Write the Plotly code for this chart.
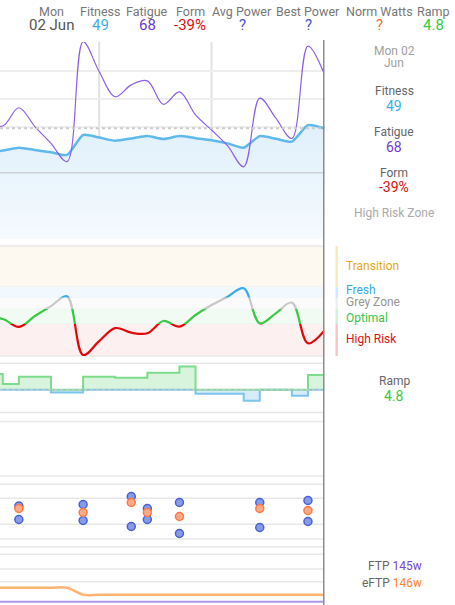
import datetime as dt
import plotly.graph_objects as go

# ---------------- data ----------------
END = dt.date(2025, 6, 2)
day_offsets = list(range(-21, 1))
dates = [(END + dt.timedelta(days=d)).isoformat() for d in day_offsets]

fitness = [40.8, 41.3, 42.3, 41.5, 40.7, 39.8, 46.7, 45.8, 44.7, 45.5, 46.3,
           45.3, 46.3, 45.6, 44.9, 43.8, 42.3, 46.3, 45.4, 44.4, 50.1, 49.0]
fatigue = [51.0, 49.8, 56.1, 49.6, 43.8, 37.5, 78.9, 68.6, 59.9, 64.0, 65.4,
           57.3, 61.6, 53.6, 48.4, 42.9, 35.7, 59.4, 52.5, 45.5, 77.4, 68.0]
form_pct = [-22.0, -23.3, -34.0, -19.3, -6.0, 7.0, -71.6, -53.0, -35.5, -41.7, -42.5,
            -26.0, -33.6, -18.0, -4.6, 6.6, 17.8, -29.1, -15.7, -1.4, -55.9, -39.4]
ramp = [5.1, 1.9, 4.2, 4.2, -0.9, -0.9, 4.2, 4.2, 3.9, 3.9, 5.5,
        5.5, 7.5, -1.3, -1.3, -1.3, -3.5, 0.0, 0.0, -1.9, 4.8, 4.8]
ftp = [145] * 22
eftp = [147, 147, 147, 147, 147, 147, 146, 146, 146, 146, 146,
        146, 146, 146, 146, 146, 146, 146, 146, 146, 146, 146]

act_offsets = [-19, -15, -12, -11, -9, -4, -1]
act_dates = [(END + dt.timedelta(days=d)).isoformat() for d in act_offsets]
best_power = [156, 159, 175, 151, 163, 163, 167]
norm_watts = [151, 143, 163, 143, 135, 151, 147]
avg_power = [129, 127, 115, 129, 101, 113, 125]

week_starts = ["2025-05-19", "2025-05-26"]

header_labels = ["Mon", "Fitness", "Fatigue", "Form", "Avg Power", "Best Power", "Norm Watts", "Ramp"]
header_values = ["02 Jun", "49", "68", "-39%", "?", "?", "?", "4.8"]

# zones: name, lower, upper
FORM_LO, FORM_HI = -72.92, 74.53
zones = [
    ("Transition", 20, FORM_HI),
    ("Fresh", 5, 20),
    ("Grey Zone", -10, 5),
    ("Optimal", -30, -10),
    ("High Risk", FORM_LO, -30),
]

# ---------------- styling ----------------
W, H = 455, 605
FONT = "Roboto"


def px_x(p):
    return p / W


def px_y(p):
    return 1 - p / H


zone_style = {
    "Transition": dict(line="rgb(240,180,40)", bg="rgb(253,249,240)", bar="rgb(250,232,185)", txt="rgb(232,168,20)"),
    "Fresh": dict(line="rgb(60,170,232)", bg="rgb(241,248,254)", bar="rgb(205,232,250)", txt="rgb(58,168,232)"),
    "Grey Zone": dict(line="rgb(200,200,200)", bg="rgb(251,251,251)", bar="rgb(238,238,238)", txt="rgb(150,150,150)"),
    "Optimal": dict(line="rgb(60,200,70)", bg="rgb(241,251,243)", bar="rgb(205,242,210)", txt="rgb(55,195,70)"),
    "High Risk": dict(line="rgb(225,10,10)", bg="rgb(252,240,240)", bar="rgb(245,195,195)", txt="rgb(225,15,15)"),
}
zone_label_y = {"Transition": 266, "Fresh": 290, "Grey Zone": 302, "Optimal": 318, "High Risk": 339}

fig = go.Figure()

# ---- panel 1: fitness / fatigue ----
fig.add_trace(go.Scatter(
    x=dates, y=fitness, mode="lines", xaxis="x", yaxis="y",
    line=dict(color="rgb(95,185,235)", width=2.5, shape="spline", smoothing=0.6),
    fill="tozeroy",
    fillgradient=dict(type="vertical", start=10.76, stop=50,
                      colorscale=[[0, "rgb(245,250,254)"], [1, "rgb(224,240,251)"]]),
    hoverinfo="skip"))
fig.add_trace(go.Scatter(
    x=dates, y=fatigue, mode="lines", xaxis="x", yaxis="y",
    line=dict(color="rgb(140,95,228)", width=1.2, shape="spline", smoothing=1.0),
    hoverinfo="skip"))

# ---- panel 2: form, coloured by zone (clipped per-zone sub-axes) ----
P2_TOP, P2_BOT = 246, 356


def form_px(v):
    return P2_BOT - (v - FORM_LO) / (FORM_HI - FORM_LO) * (P2_BOT - P2_TOP)


zone_axes = {}
for i, (name, lo, hi) in enumerate(zones):
    n = 3 + i
    zone_axes[name] = n
    fig.add_trace(go.Scatter(
        x=dates, y=form_pct, mode="lines", xaxis="x", yaxis=f"y{n}",
        line=dict(color=zone_style[name]["line"], width=2.2, shape="spline", smoothing=1.0),
        hoverinfo="skip"))

# ---- panel 3: ramp ----
ramp_pos = [max(v, 0) for v in ramp]
ramp_neg = [min(v, 0) for v in ramp]
fig.add_trace(go.Scatter(
    x=dates, y=ramp_neg, mode="lines", xaxis="x", yaxis="y8",
    line=dict(color="rgb(125,195,238)", width=2, shape="hv"),
    fill="tozeroy", fillcolor="rgba(125,195,238,0.32)", hoverinfo="skip"))
fig.add_trace(go.Scatter(
    x=dates, y=ramp_pos, mode="lines", xaxis="x", yaxis="y8",
    line=dict(color="rgb(125,220,140)", width=2, shape="hv"),
    fill="tozeroy", fillcolor="rgba(125,220,140,0.3)", hoverinfo="skip"))

# ---- panel 5: power dots ----
blue_marker = dict(size=8, color="rgb(135,155,235)", line=dict(color="rgb(75,95,215)", width=1.5))
orange_marker = dict(size=8, color="rgb(255,170,135)", line=dict(color="rgb(255,120,70)", width=1.5))
fig.add_trace(go.Scatter(x=act_dates, y=best_power, mode="markers", xaxis="x", yaxis="y9",
                         marker=blue_marker, hoverinfo="skip"))
fig.add_trace(go.Scatter(x=act_dates, y=avg_power, mode="markers", xaxis="x", yaxis="y9",
                         marker=blue_marker, hoverinfo="skip"))
fig.add_trace(go.Scatter(x=act_dates, y=norm_watts, mode="markers", xaxis="x", yaxis="y9",
                         marker=orange_marker, hoverinfo="skip"))

# ---- panel 6: FTP / eFTP ----
fig.add_trace(go.Scatter(x=dates, y=ftp, mode="lines", xaxis="x", yaxis="y10",
                         line=dict(color="rgb(175,150,235)", width=2), hoverinfo="skip"))
fig.add_trace(go.Scatter(x=dates, y=eftp, mode="lines", xaxis="x", yaxis="y10",
                         line=dict(color="rgb(255,180,115)", width=2.5, shape="spline"),
                         hoverinfo="skip"))

# ---------------- layout ----------------
X_RIGHT = 324.5
x_lo = (dt.datetime(2025, 6, 2) - dt.timedelta(days=20.174)).isoformat()
x_hi = (dt.datetime(2025, 6, 2) + dt.timedelta(days=0.031)).isoformat()

hidden = dict(visible=False, showgrid=False, zeroline=False, anchor="x")
layout = dict(
    width=W, height=H, margin=dict(l=0, r=0, t=0, b=0),
    paper_bgcolor="white", plot_bgcolor="rgba(0,0,0,0)",
    showlegend=False, hovermode=False,
    font=dict(family=FONT, color="#777"),
    xaxis=dict(domain=[0, px_x(X_RIGHT)], range=[x_lo, x_hi], visible=False, anchor="y"),
    yaxis=dict(domain=[px_y(239), px_y(42)], range=[10.76, 78.81], anchor="x",
               showgrid=True, gridcolor="rgb(238,238,238)", gridwidth=1.5,
               tick0=78.57, dtick=9.672, showticklabels=False, ticks="",
               zeroline=False, showline=False),
    yaxis2=dict(domain=[px_y(P2_BOT), px_y(P2_TOP)], range=[FORM_LO, FORM_HI], **hidden),
    yaxis8=dict(domain=[px_y(413), px_y(363)], range=[-7.48, 8.65], **hidden),
    yaxis9=dict(domain=[px_y(539), px_y(484)], range=[90, 200], **hidden),
    yaxis10=dict(domain=[0, px_y(546)], range=[144.53, 152.96], **hidden),
)
for name, lo, hi in zones:
    n = zone_axes[name]
    layout[f"yaxis{n}"] = dict(domain=[px_y(form_px(lo)), px_y(form_px(hi))], range=[lo, hi], **hidden)
fig.update_layout(**layout)

shapes = []
# form zone backgrounds and legend bars
for name, lo, hi in zones:
    st = zone_style[name]
    shapes.append(dict(type="rect", xref="x domain", yref="y2", x0=0, x1=1, y0=lo, y1=hi,
                       fillcolor=st["bg"], line=dict(width=0), layer="below"))
    shapes.append(dict(type="rect", xref="paper", yref="y2", x0=px_x(335.5), x1=px_x(337.8),
                       y0=lo, y1=hi, fillcolor=st["bar"], line=dict(width=0)))
    shapes.append(dict(type="line", xref="x domain", yref="y2", x0=0, x1=1, y0=lo, y1=lo,
                       line=dict(color="rgba(0,0,0,0.04)", width=1), layer="below"))

# decorative horizontal rules
rule_px = [246, 356, 363.3, 412.5, 421.5, 476, 484.3, 498.3, 524.3, 539, 546.7, 554.3, 569, 581.7]
for p in rule_px:
    shapes.append(dict(type="line", xref="x domain", yref="paper", x0=0, x1=1,
                       y0=px_y(p), y1=px_y(p), line=dict(color="rgb(232,232,232)", width=1.5),
                       layer="below"))

# week separators in panel 1
for wk in week_starts:
    shapes.append(dict(type="line", xref="x", yref="y domain", x0=wk, x1=wk, y0=0, y1=1,
                       line=dict(color="rgb(226,226,226)", width=2), layer="below"))

# darker reference rule in panel 1
shapes.append(dict(type="line", xref="x domain", yref="paper", x0=0, x1=1,
                   y0=px_y(172.7), y1=px_y(172.7), line=dict(color="rgb(205,210,214)", width=1.5)))
# crosshair at current fitness
shapes.append(dict(type="line", xref="x domain", yref="y", x0=0, x1=1,
                   y0=fitness[-1], y1=fitness[-1],
                   line=dict(color="rgb(205,205,205)", width=2, dash="dot")))
# ramp zero line
shapes.append(dict(type="line", xref="x domain", yref="y8", x0=0, x1=1, y0=0, y1=0,
                   line=dict(color="rgba(190,205,215,0.9)", width=1.5, dash="dot")))
# current-day cursor
shapes.append(dict(type="line", xref="x", yref="paper", x0=END.isoformat(), x1=END.isoformat(),
                   y0=0, y1=px_y(40), line=dict(color="rgb(140,140,140)", width=2)))
fig.update_layout(shapes=shapes)

ann = []


def text(x, y, s, size=12, color="#777", xanchor="center", weight=None):
    ann.append(dict(x=px_x(x), y=px_y(y), xref="paper", yref="paper", text=s, showarrow=False,
                    xanchor=xanchor, yanchor="middle",
                    font=dict(family=FONT, size=size, color=color, weight=weight)))


# header
hdr_x = [51.7, 100, 147, 190, 242, 308, 379, 433]
hdr_val_col = ["#555", "rgb(60,175,232)", "rgb(110,60,210)", "rgb(228,10,10)",
               "rgb(70,85,205)", "rgb(70,85,205)", "rgb(255,110,50)", "rgb(60,200,70)"]
for x, lab, val, col in zip(hdr_x, header_labels, header_values, hdr_val_col):
    text(x, 11, lab, size=12.5, color="#777")
    text(x, 25.5, val, size=15, color=col)

# right side panel 1
text(394, 51.5, "Mon 02", size=12, color="#a0a0a0")
text(394, 63.3, "Jun", size=12, color="#a0a0a0")
text(394, 90.7, "Fitness", size=12, color="#666")
text(394, 105.5, "49", size=14, color="rgb(60,175,232)")
text(394, 131.7, "Fatigue", size=12, color="#666")
text(394, 146.5, "68", size=14, color="rgb(110,60,210)")
text(394, 172.7, "Form", size=12, color="#666")
text(394, 186.7, "-39%", size=14, color="rgb(228,10,10)")
text(394, 213.3, "High Risk Zone", size=12, color="#aaa")

# form zone labels
for name, lo, hi in zones:
    text(344, zone_label_y[name], name, size=12, color=zone_style[name]["txt"], xanchor="left")

# ramp
text(394, 381, "Ramp", size=12, color="#666")
text(394, 395.5, "4.8", size=14, color="rgb(60,200,70)")

# FTP
text(424, 565.5, "FTP <span style='color:rgb(120,70,215)'>145w</span>", size=12, color="#666", xanchor="right")
text(424, 583.3, "eFTP <span style='color:rgb(255,130,40)'>146w</span>", size=12, color="#666", xanchor="right")

fig.update_layout(annotations=ann)

fig.write_html("out.html", config={"displayModeBar": False},
               post_script="document.body.style.margin='0';document.body.style.padding='0';")
